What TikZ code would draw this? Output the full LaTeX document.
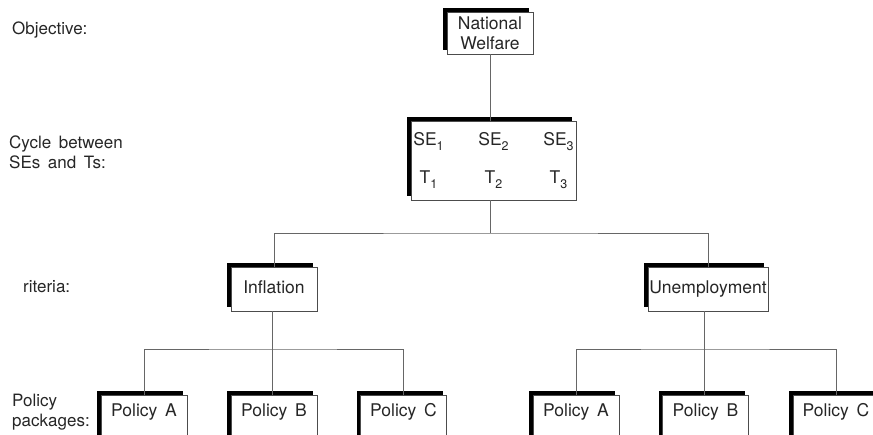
\documentclass[tikz,border=0pt]{standalone}
\usepackage{fontspec}
\setmainfont[WordSpace=1.6]{TeX Gyre Heros}
\usetikzlibrary{shadows}
\newcommand{\lowsub}[1]{\raisebox{-4.5pt}{\fontsize{12.5}{12.5}\selectfont #1}}
\begin{document}
\begin{tikzpicture}[x=1pt,y=-1pt,
  box/.style={draw=black!70, line width=0.8pt, fill=white, inner sep=0pt,
    general shadow={shadow xshift=-4pt, shadow yshift=4pt, fill=black},
    font=\fontsize{17.5}{20}\selectfont, text=black!85, align=center},
  crit/.style={box, minimum height=44pt, text height=13pt, text depth=3pt},
  policy/.style={box, minimum width=86pt, minimum height=44pt,
    text height=13pt, text depth=13pt},
  link/.style={draw=black!60, line width=0.9pt},
  lbl/.style={anchor=west, align=left, inner sep=0pt,
    font=\fontsize{17}{20}\selectfont, text=black!85}]
\useasboundingbox (0,0) rectangle (873,435);
\clip (0,0) rectangle (873,435);

% level labels
\node[lbl] (lobj) at (12,30) {Objective:};
\node[lbl] (lcyc) at (9,152) {Cycle between\\SEs and Ts:};
\node[lbl] (lcrit) at (23,287) {riteria:};
\node[lbl] (lpol) at (12,412) {Policy\\packages:};

% boxes
\node[box, minimum width=86pt, minimum height=42pt] (nw) at (490,33) {National\\Welfare};
\node[box, minimum width=165pt, minimum height=79pt] (se) at (493.5,160.5)
  {\makebox[0pt]{SE\lowsub{1}}\hspace{65pt}\makebox[0pt]{SE\lowsub{2}}\hspace{65pt}\makebox[0pt]{SE\lowsub{3}}\\[18pt]
   \makebox[0pt]{T\lowsub{1}}\hspace{65pt}\makebox[0pt]{T\lowsub{2}}\hspace{65pt}\makebox[0pt]{T\lowsub{3}}};
\node[crit, minimum width=86pt] (infl) at (274,289) {Inflation};
\node[crit, minimum width=120pt] (unemp) at (708,289) {Unemployment};

\node[policy] (pa1) at (144,417) {Policy A};
\node[policy] (pb1) at (274,417) {Policy B};
\node[policy] (pc1) at (403.5,417) {Policy C};
\node[policy] (pa2) at (576,417) {Policy A};
\node[policy] (pb2) at (705.5,417) {Policy B};
\node[policy] (pc2) at (836,417) {Policy C};

% junctions
\coordinate (j0) at (490,233);
\coordinate (j1) at (272,349);
\coordinate (j2) at (704,349);

% connectors
\draw[link] (nw.south) -- (nw.south |- se.north);
\draw[link] (j0 |- se.south) -- (j0);
\draw[link] (infl.north) |- (j0) -| (unemp.north);
\draw[link] (infl.south -| j1) -- (j1);
\draw[link] (pa1.north) |- (j1) -| (pc1.north);
\draw[link] (j1) -- (j1 |- pb1.north);
\draw[link] (unemp.south -| j2) -- (j2);
\draw[link] (pa2.north) |- (j2) -| (pc2.north);
\draw[link] (j2) -- (j2 |- pb2.north);
\end{tikzpicture}
\end{document}
